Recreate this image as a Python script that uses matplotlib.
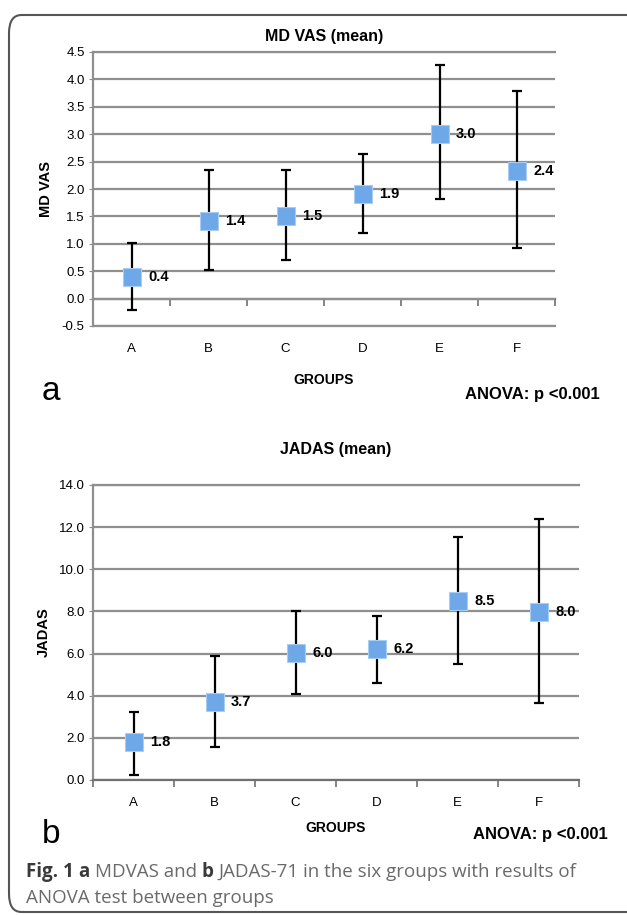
import numpy as np
import matplotlib.pyplot as plt
from matplotlib.patches import FancyBboxPatch

plt.rcParams['font.family'] = ['Liberation Sans', 'DejaVu Sans']

groups = ['A', 'B', 'C', 'D', 'E', 'F']

# panel a: MD VAS
vas_mean = [0.40, 1.42, 1.51, 1.90, 3.01, 2.32]
vas_low = [-0.20, 0.53, 0.71, 1.19, 1.82, 0.92]
vas_high = [1.01, 2.34, 2.34, 2.64, 4.27, 3.79]
vas_lbl = ['0.4', '1.4', '1.5', '1.9', '3.0', '2.4']

# panel b: JADAS
jad_mean = [1.79, 3.68, 6.01, 6.21, 8.50, 7.98]
jad_low = [0.26, 1.55, 4.06, 4.58, 5.50, 3.65]
jad_high = [3.21, 5.90, 8.03, 7.77, 11.54, 12.40]
jad_lbl = ['1.8', '3.7', '6.0', '6.2', '8.5', '8.0']

W, H = 627, 915
fig = plt.figure(figsize=(W / 100, H / 100), dpi=100)

GRID = '#8f8f8f'


def panel(rect, mean, low, high, lbl, yticks, ylab, title, tpad):
    ax = fig.add_axes(rect)
    x = np.arange(len(groups))
    mean = np.array(mean)
    err = [mean - np.array(low), np.array(high) - mean]
    ax.errorbar(x, mean, yerr=err, fmt='none', ecolor='black',
                elinewidth=1.6, capsize=3.5, capthick=1.6, zorder=3)
    ax.plot(x, mean, 's', ms=12.5, mfc='#6ea8e8', mec='#a9cdf2', mew=0.8,
            ls='none', zorder=4)
    for xi, yi, t in zip(x, mean, lbl):
        ax.annotate(t, (xi, yi), xytext=(12, 0), textcoords='offset points',
                    ha='left', va='center', fontsize=10.5, fontweight='bold')
    ax.set_xlim(-0.5, len(groups) - 0.5)
    ax.set_ylim(yticks[0], yticks[-1])
    ax.set_yticks(yticks)
    ax.set_yticklabels(['%.1f' % v for v in yticks], fontsize=9.5)
    ax.yaxis.grid(True, color=GRID, lw=1.6)
    ax.set_axisbelow(True)
    ax.set_xticks(x)
    ax.set_xticklabels(groups, fontsize=9.5)
    ax.tick_params(axis='x', length=0, pad=12)
    ax.tick_params(axis='y', length=3, color=GRID, pad=3)
    for s in ['top', 'bottom']:
        ax.spines[s].set_color(GRID)
        ax.spines[s].set_linewidth(1.6)
    ax.spines['right'].set_visible(False)
    ax.spines['left'].set_color(GRID)
    ax.spines['left'].set_linewidth(1.6)
    ax.set_ylabel(ylab, fontsize=10.5, fontweight='bold', labelpad=6)
    ax.set_title(title, fontsize=11.5, fontweight='bold', pad=tpad)
    return ax


ax1 = panel([93 / W, 1 - 326 / H, (555 - 93) / W, 274 / H],
            vas_mean, vas_low, vas_high, vas_lbl,
            [-0.5, 0, 0.5, 1, 1.5, 2, 2.5, 3, 3.5, 4, 4.5], 'MD VAS',
            'MD VAS (mean)', 8)
sec = ax1.secondary_xaxis(0.1)
sec.set_xticks(np.arange(len(groups) + 1) - 0.5)
sec.set_xticklabels([])
sec.tick_params(length=5, color='#707070', width=1.2)
sec.spines['bottom'].set_color('#707070')
sec.spines['bottom'].set_linewidth(1.6)

ax2 = panel([93 / W, 1 - 780 / H, (579 - 93) / W, 295 / H],
            jad_mean, jad_low, jad_high, jad_lbl,
            [0, 2, 4, 6, 8, 10, 12, 14], 'JADAS', 'JADAS (mean)', 22)
ax2.set_xticks(np.arange(len(groups) + 1) - 0.5, minor=True)
ax2.tick_params(axis='x', which='minor', length=5, color='#707070', width=1.2)
ax2.spines['bottom'].set_color('#707070')

# annotations
fig.text(324 / W, 1 - 380 / H, 'GROUPS', ha='center', va='center',
         fontsize=10, fontweight='bold')
fig.text(336 / W, 1 - 828 / H, 'GROUPS', ha='center', va='center',
         fontsize=10, fontweight='bold')
fig.text(600 / W, 1 - 395 / H, 'ANOVA: p <0.001', ha='right', va='center',
         fontsize=12, fontweight='bold')
fig.text(608 / W, 1 - 834 / H, 'ANOVA: p <0.001', ha='right', va='center',
         fontsize=12, fontweight='bold')
fig.text(42 / W, 1 - 400 / H, 'a', ha='left', va='baseline', fontsize=24)
fig.text(42 / W, 1 - 843 / H, 'b', ha='left', va='baseline', fontsize=24)

# caption with mixed weights
fig.canvas.draw()
rend = fig.canvas.get_renderer()


def caption_line(parts, x0, y0):
    x = x0
    for txt, bold in parts:
        t = fig.text(x, y0, txt, ha='left', va='baseline', fontsize=13.5,
                     family=['Open Sans', 'DejaVu Sans'],
                     fontweight='bold' if bold else 'normal',
                     color='#3a3a3a' if bold else '#6a6a6a')
        bb = t.get_window_extent(rend)
        x = bb.x1 / W


caption_line([('Fig. 1 ', True), ('a ', True), ('MDVAS and ', False), ('b ', True),
              ('JADAS-71 in the six groups with results of', False)],
             26 / W, 1 - 877 / H)
caption_line([('ANOVA test between groups', False)], 26 / W, 1 - 903 / H)

border = FancyBboxPatch((9 / W, 3 / H), 1.2, 1 - 15 / H - 3 / H,
                        boxstyle='round,pad=0,rounding_size=0.02',
                        transform=fig.transFigure, fill=False,
                        ec='#555555', lw=1.5, clip_on=False)
fig.patches.append(border)

fig.savefig('out.png', dpi=100)
